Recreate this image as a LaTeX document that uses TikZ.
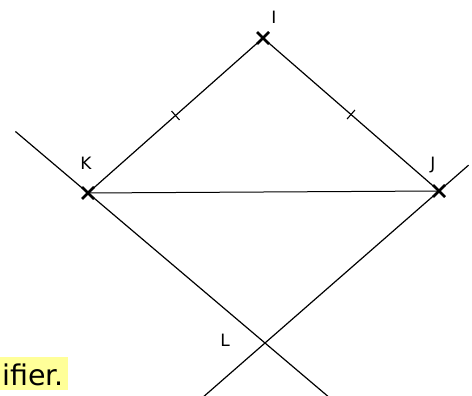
\documentclass[tikz,border=0pt]{standalone}
\usepackage{fontspec}
\setmainfont{DejaVu Sans}
\usetikzlibrary{calc}

\definecolor{hlyellow}{RGB}{255,255,153}
\tikzset{
  cons/.style={line width=1.2pt, black},
  crossmark/.style={line width=2.6pt, black},
  tickmark/.style={line width=1.1pt, black},
  ptlabel/.style={font=\fontsize{17}{20}\selectfont, inner sep=0pt}
}

\begin{document}
\begin{tikzpicture}[x=1pt, y=-1pt]
  \useasboundingbox (0,0) rectangle (472,396);
  \foreach \name/\x/\y in {I/263/38, K/88/193, J/439/191, L/265/343}
    \coordinate (\name) at (\x,\y);
  % free ends of the two long lines
  \coordinate (KLa) at ($(K)!-0.41!(L)$);
  \coordinate (KLb) at ($(L)!-0.36!(K)$);
  \coordinate (JLa) at ($(J)!-0.17!(L)$);
  \coordinate (JLb) at ($(L)!-0.35!(J)$);
  \draw[cons] (KLa) -- (KLb);
  \draw[cons] (JLa) -- (JLb);
  \draw[cons] (K) -- (I) -- (J);
  \draw[cons, line width=1pt] (K) -- (J);
  % equal length ticks
  \draw[tickmark] ($(K)!0.5!(I)!6pt!90:(I)$) -- ($(K)!0.5!(I)!6pt!-90:(I)$);
  \draw[tickmark] ($(I)!0.5!(J)!6pt!90:(J)$) -- ($(I)!0.5!(J)!6pt!-90:(J)$);
  \foreach \name in {I,K,J}
  {
    \draw[crossmark] ($(\name)+(-6,-6)$) -- ($(\name)+(6,6)$);
    \draw[crossmark] ($(\name)+(-6,6)$) -- ($(\name)+(6,-6)$);
  }
  \node[ptlabel] (labI) at (274,17) {I};
  \node[ptlabel] (labK) at (86,163) {K};
  \node[ptlabel] (labJ) at (433,165) {J};
  \node[ptlabel] (labL) at (225,340) {L};
  % highlighted end of a sentence
  \fill[hlyellow] (0,357) rectangle (68,390);
  \node[font=\fontsize{28.5}{34}\selectfont, inner sep=0pt, anchor=base east]
    (tail) at (64,385) {ifier.};
\end{tikzpicture}
\end{document}
